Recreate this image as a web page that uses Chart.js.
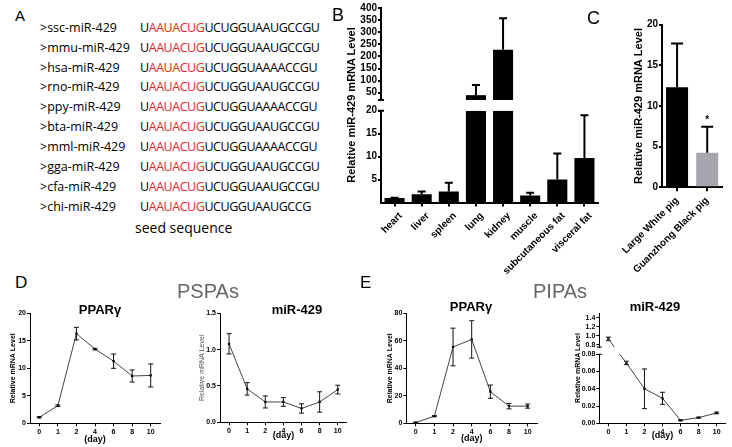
<!DOCTYPE html>
<html lang="en">
<head>
<meta charset="utf-8">
<title>miR-429 expression in pig tissues and adipocytes</title>
<script src="https://cdn.jsdelivr.net/npm/chart.js@4.4.1/dist/chart.umd.min.js"></script>
<style>
  html, body { margin: 0; padding: 0; background: #fff; }
  #page { position: relative; width: 732px; height: 447px; overflow: hidden; font-family: "Liberation Sans", Arial, sans-serif; color: #000; }
  #page canvas { position: absolute; }
  .txt { position: absolute; white-space: nowrap; line-height: 1; }
  .panel-title { position: absolute; width: 100px; text-align: center; font-weight: bold; font-size: 13px; line-height: 1; white-space: nowrap; }
  .group-title { position: absolute; font-size: 20px; color: #666; line-height: 1; white-space: nowrap; }
  .vtitle { position: absolute; width: 200px; text-align: center; transform: rotate(-90deg); white-space: nowrap; font-weight: bold; }
  .seq { position: absolute; white-space: nowrap; font-family: "Open Sans", sans-serif; font-size: 12.5px; line-height: 1; }
  .seq.code { letter-spacing: -0.45px; }
  .seed { color: #e3262b; }
</style>
</head>
<body>
<div id="page">
  <div id="panelA"></div>

  <canvas id="tissueChart" width="282" height="285" style="left:320px;top:0"></canvas>
  <canvas id="breedChart" width="132" height="285" style="left:600px;top:0"></canvas>
  <canvas id="pspaPpargChart" width="164" height="147" style="left:0;top:300px"></canvas>
  <canvas id="pspaMirChart" width="166" height="147" style="left:185px;top:300px"></canvas>
  <canvas id="pipaPpargChart" width="170" height="147" style="left:371px;top:300px"></canvas>
  <canvas id="pipaMirChart" width="167" height="147" style="left:565px;top:300px"></canvas>

  <div class="txt" style="left:15px;top:8px;font-size:15px">A</div>
  <div class="txt" style="left:332px;top:6px;font-size:18px">B</div>
  <div class="txt" style="left:587px;top:9px;font-size:18px">C</div>
  <div class="txt" style="left:15px;top:274px;font-size:17px">D</div>
  <div class="txt" style="left:360px;top:274px;font-size:17px">E</div>

  <div class="group-title" style="left:177px;top:281px">PSPAs</div>
  <div class="group-title" style="left:533px;top:281px">PIPAs</div>

  <div class="panel-title" style="left:50px;top:303px">PPARγ</div>
  <div class="panel-title" style="left:247px;top:303px">miR-429</div>
  <div class="panel-title" style="left:421px;top:300px">PPARγ</div>
  <div class="panel-title" style="left:605px;top:300px">miR-429</div>

  <div class="vtitle" style="left:251px;top:99px;font-size:11px;line-height:12px">Relative miR-429 mRNA Level</div>
  <div class="vtitle" style="left:478px;top:364px;font-size:7px;line-height:8px">Relative mRNA Level</div>
</div>

<script>
// ---- panel A: miR-429 sequences ----
const speciesNames = ['>ssc-miR-429', '>mmu-miR-429', '>hsa-miR-429', '>rno-miR-429', '>ppy-miR-429',
  '>bta-miR-429', '>mml-miR-429', '>gga-miR-429', '>cfa-miR-429', '>chi-miR-429'];
const sequences = ['UAAUACUGUCUGGUAAUGCCGU', 'UAAUACUGUCUGGUAAUGCCGU', 'UAAUACUGUCUGGUAAAACCGU',
  'UAAUACUGUCUGGUAAUGCCGU', 'UAAUACUGUCUGGUAAAACCGU', 'UAAUACUGUCUGGUAAUGCCGU',
  'UAAUACUGUCUGGUAAAACCGU', 'UAAUACUGUCUGGUAAUGCCGU', 'UAAUACUGUCUGGUAAUGCCGU',
  'UAAUACUGUCUGGUAAUGCCG'];
const seedStart = 1;
const seedEnd = 8;

// ---- panel B: tissues ----
const tissues = ['heart', 'liver', 'spleen', 'lung', 'kidney', 'muscle', 'subcutaneous fat', 'visceral fat'];
const tissueLevel = [1.0, 1.8, 2.4, 40, 228, 1.5, 5.0, 9.7];
const tissueSem = [0.05, 0.6, 1.9, 42, 130, 0.6, 5.7, 9.3];
const tissueTicksHigh = [50, 100, 150, 200, 250, 300, 350, 400];
const tissueTicksLow = [5, 10, 15, 20];
const tissueBreak = 20;

// ---- panel C: breeds ----
const breeds = ['Large White pig', 'Guanzhong Black pig'];
const breedLevel = [12.3, 4.25];
const breedSem = [5.4, 3.2];
const breedMarks = ['', '*'];
const breedTicks = [0, 5, 10, 15, 20];

// ---- panels D, E: differentiation time course ----
const dayLabels = ['0', '1', '2', '4', '6', '8', '10'];
const pspaPparg = [1.1, 3.2, 16.3, 13.5, 11.3, 8.6, 8.7];
const pspaPpargSem = [0.1, 0.15, 1.15, 0.15, 1.3, 1.1, 2.1];
const pspaPpargTicks = [0, 5, 10, 15, 20];
const pspaMir = [1.08, 0.46, 0.28, 0.28, 0.19, 0.28, 0.45];
const pspaMirSem = [0.14, 0.085, 0.083, 0.06, 0.064, 0.14, 0.06];
const pspaMirTicks = [0, 0.5, 1.0, 1.5];
const pipaPparg = [0.5, 5.2, 55.5, 61, 23, 12.5, 12.5];
const pipaPpargSem = [0.3, 0.4, 13.7, 13.6, 4.8, 2, 1.5];
const pipaPpargTicks = [0, 20, 40, 60, 80];
const pipaMir = [0.93, 0.070, 0.040, 0.029, 0.0035, 0.0066, 0.012];
const pipaMirSem = [0.04, 0.002, 0.023, 0.007, 0.0005, 0.0005, 0.001];
const pipaMirTicksHigh = [0.8, 1.0, 1.2, 1.4];
const pipaMirTicksLow = [0, 0.02, 0.04, 0.06, 0.08];
const pipaMirBreak = 0.08;

const FONT = '"Liberation Sans", Arial, sans-serif';
Chart.defaults.font.family = FONT;
Chart.defaults.color = '#000';

// panel A rows
const panelA = document.getElementById('panelA');
speciesNames.forEach((name, i) => {
  const top = 21.7 + i * 19.92;
  const label = document.createElement('div');
  label.className = 'seq';
  label.style.left = '40px';
  label.style.top = `${top}px`;
  label.textContent = name;
  panelA.appendChild(label);

  const seq = sequences[i];
  const row = document.createElement('div');
  row.className = 'seq code';
  row.style.left = '140px';
  row.style.top = `${top}px`;
  row.innerHTML = `${seq.slice(0, seedStart)}<span class="seed">${seq.slice(seedStart, seedEnd)}</span>${seq.slice(seedEnd)}`;
  panelA.appendChild(row);
});
const seedCaption = document.createElement('div');
seedCaption.className = 'seq';
seedCaption.style.cssText = 'left:135px;top:221px;font-size:14px';
seedCaption.textContent = 'seed sequence';
panelA.appendChild(seedCaption);

// error bars (optionally one-sided) + significance marks
const errorBarPlugin = {
  id: 'errorBars',
  afterDatasetsDraw(chart) {
    const { ctx } = chart;
    chart.data.datasets.forEach((dataset, index) => {
      if (!dataset.errors) {
        return;
      }
      const meta = chart.getDatasetMeta(index);
      const yScale = chart.scales[meta.yAxisID];
      const style = dataset.errorBar || {};
      const cap = style.cap ?? 2.5;
      ctx.save();
      ctx.strokeStyle = style.color || '#000';
      ctx.lineWidth = style.width || 1;
      meta.data.forEach((element, i) => {
        const value = dataset.data[i];
        const error = dataset.errors[i];
        if (value == null || error == null) {
          return;
        }
        const x = element.x;
        const top = yScale.getPixelForValue(value + error);
        const bottom = yScale.getPixelForValue(style.upOnly ? value : value - error);
        ctx.beginPath();
        ctx.moveTo(x, bottom);
        ctx.lineTo(x, top);
        ctx.moveTo(x - cap, top);
        ctx.lineTo(x + cap, top);
        if (!style.upOnly) {
          ctx.moveTo(x - cap, bottom);
          ctx.lineTo(x + cap, bottom);
        }
        ctx.stroke();
        if (dataset.marks && dataset.marks[i]) {
          ctx.fillStyle = '#000';
          ctx.font = `bold 10px ${FONT}`;
          ctx.textAlign = 'center';
          ctx.textBaseline = 'bottom';
          ctx.fillText(dataset.marks[i], x, top - 1);
        }
      });
      ctx.restore();
    });
  },
};

// short caps where a broken axis is interrupted
const axisBreakPlugin = {
  id: 'axisBreak',
  afterDraw(chart, args, opts) {
    if (!opts.gapAxis) {
      return;
    }
    const gap = chart.scales[opts.gapAxis];
    const x = chart.chartArea.left;
    const { ctx } = chart;
    ctx.save();
    ctx.strokeStyle = '#000';
    ctx.lineWidth = opts.width || 1;
    ctx.beginPath();
    [gap.top, gap.bottom].forEach((y) => {
      ctx.moveTo(x - opts.size, y);
      ctx.lineTo(x + opts.size, y);
    });
    ctx.stroke();
    ctx.restore();
  },
};

// line segment that crosses from the upper to the lower part of a broken axis
const brokenLinkPlugin = {
  id: 'brokenLink',
  afterDatasetsDraw(chart, args, opts) {
    if (!opts.values) {
      return;
    }
    const { ctx, chartArea } = chart;
    const xScale = chart.scales.x;
    const high = chart.scales[opts.highAxis];
    const low = chart.scales[opts.lowAxis];
    const gap = chart.scales[opts.gapAxis];
    const pixel = (v) => (v > opts.threshold ? high : low).getPixelForValue(v);
    ctx.save();
    ctx.beginPath();
    ctx.rect(chartArea.left, chartArea.top, chartArea.width, gap.top - chartArea.top);
    ctx.rect(chartArea.left, gap.bottom, chartArea.width, chartArea.bottom - gap.bottom);
    ctx.clip();
    ctx.strokeStyle = opts.color;
    ctx.lineWidth = 1;
    for (let i = 0; i < opts.values.length - 1; i++) {
      const a = opts.values[i];
      const b = opts.values[i + 1];
      if ((a > opts.threshold) !== (b > opts.threshold)) {
        ctx.beginPath();
        ctx.moveTo(xScale.getPixelForValue(i), pixel(a));
        ctx.lineTo(xScale.getPixelForValue(i + 1), pixel(b));
        ctx.stroke();
      }
    }
    ctx.restore();
  },
};

Chart.register(errorBarPlugin, axisBreakPlugin, brokenLinkPlugin);

const baseOptions = {
  responsive: false,
  animation: false,
  events: [],
  plugins: { legend: { display: false }, tooltip: { enabled: false } },
};

function fixedTicks(values) {
  return (scale) => {
    scale.ticks = values.map((value) => ({ value }));
  };
}

function valueAxis({ ticks, min, max, width, lineWidth = 1, fontSize = 7, digits = 0, title, extra = {} }) {
  return {
    type: 'linear',
    position: 'left',
    min,
    max,
    afterBuildTicks: fixedTicks(ticks),
    afterFit(scale) {
      scale.width = width;
    },
    grid: { drawOnChartArea: false, tickLength: 3, color: '#000', lineWidth },
    border: { color: '#000', width: lineWidth },
    ticks: {
      font: { size: fontSize, weight: 'bold' },
      color: '#000',
      padding: 1,
      autoSkip: false,
      callback: (v) => Number(v).toFixed(digits),
    },
    title: title || { display: false },
    ...extra,
  };
}

function gapAxis(stack, stackWeight, width) {
  return {
    type: 'linear',
    position: 'left',
    stack,
    stackWeight,
    weight: 2,
    min: 0,
    max: 1,
    afterFit(scale) {
      scale.width = width;
    },
    grid: { display: false },
    border: { display: false },
    ticks: { display: false },
  };
}

function categoryAxis({ height, lineWidth, fontSize, rotation = 0, labelShift = 0, title }) {
  return {
    type: 'category',
    offset: true,
    afterFit(scale) {
      scale.height = height;
    },
    grid: { drawOnChartArea: false, offset: false, tickLength: rotation ? 4 : 3, color: '#000', lineWidth },
    border: { color: '#000', width: lineWidth },
    ticks: {
      font: { size: fontSize, weight: 'bold' },
      color: '#000',
      padding: rotation ? 3.5 : 2,
      labelOffset: labelShift,
      autoSkip: false,
      minRotation: rotation,
      maxRotation: rotation,
    },
    title: title || { display: false },
  };
}

function dayTitle(pad) {
  return {
    display: true,
    text: '(day)',
    font: { size: 9, weight: 'bold' },
    color: '#000',
    padding: { top: 0, bottom: pad },
  };
}

function levelTitle(pad, weight = 'bold', color = '#000') {
  return {
    display: true,
    text: 'Relative mRNA Level',
    font: { size: 7, weight },
    color,
    padding: { top: pad, bottom: 0 },
  };
}

function lineDataset(values, errors, yAxisID = 'y') {
  return {
    data: values,
    errors,
    yAxisID,
    borderColor: '#444',
    borderWidth: 1,
    pointStyle: 'rect',
    pointRadius: 1.6,
    pointBackgroundColor: '#000',
    pointBorderWidth: 0,
    tension: 0,
    spanGaps: false,
    errorBar: { width: 1, cap: 2.5, color: '#111' },
  };
}

// ---- B: tissue distribution with broken axis ----
const tissueLow = tissueLevel.map((v) => Math.min(v, tissueBreak));
const tissueHigh = tissueLevel.map((v) => (v > tissueBreak ? v : null));
const tissueSemLow = tissueSem.map((e, i) => (tissueLevel[i] > tissueBreak ? null : e));
const tissueSemHigh = tissueSem.map((e, i) => (tissueLevel[i] > tissueBreak ? e : null));
const barErrorStyle = { width: 2, cap: 4, upOnly: true };

new Chart(document.getElementById('tissueChart'), {
  type: 'bar',
  data: {
    labels: tissues,
    datasets: [
      { data: tissueLow, errors: tissueSemLow, yAxisID: 'yLow', backgroundColor: '#000', grouped: false,
        barPercentage: 0.74, categoryPercentage: 1, errorBar: barErrorStyle },
      { data: tissueHigh, errors: tissueSemHigh, yAxisID: 'yHigh', backgroundColor: '#000', grouped: false,
        barPercentage: 0.74, categoryPercentage: 1, errorBar: barErrorStyle },
    ],
  },
  options: {
    ...baseOptions,
    layout: { padding: { top: 8, right: 4, bottom: 0, left: 0 } },
    plugins: { ...baseOptions.plugins, axisBreak: { gapAxis: 'yGap', size: 3, width: 2 } },
    scales: {
      x: categoryAxis({ height: 82.5, lineWidth: 2, fontSize: 10, rotation: 45, labelShift: 6 }),
      yHigh: valueAxis({ ticks: tissueTicksHigh, min: tissueBreak, max: 400, width: 61, lineWidth: 2, fontSize: 10,
        extra: { stack: 'tissue', stackWeight: 92, weight: 3 } }),
      yGap: gapAxis('tissue', 10.7, 61),
      yLow: valueAxis({ ticks: tissueTicksLow, min: 0, max: tissueBreak, width: 61, lineWidth: 2, fontSize: 10,
        extra: { stack: 'tissue', stackWeight: 91.8, weight: 1 } }),
    },
  },
});

// ---- C: two breeds ----
const breedColors = ['#000000', '#a6a6ae'];
new Chart(document.getElementById('breedChart'), {
  type: 'bar',
  data: {
    labels: breeds,
    datasets: [{ data: breedLevel, errors: breedSem, marks: breedMarks, backgroundColor: breedColors,
      barPercentage: 0.73, categoryPercentage: 1, errorBar: { width: 2, cap: 6, upOnly: true } }],
  },
  options: {
    ...baseOptions,
    layout: { padding: { top: 24.7, right: 9.7, bottom: 0, left: 0 } },
    scales: {
      x: categoryAxis({ height: 97.7, lineWidth: 2, fontSize: 10, rotation: 45, labelShift: 0 }),
      y: valueAxis({ ticks: breedTicks, min: 0, max: 20, width: 62, lineWidth: 2, fontSize: 10,
        title: { display: true, text: 'Relative miR-429 mRNA Level', font: { size: 11, weight: 'bold' },
          color: '#000', padding: { top: 32.4, bottom: 0 } } }),
    },
  },
});

// ---- D / E: line charts ----
function buildLineChart(canvasId, cfg) {
  return new Chart(document.getElementById(canvasId), {
    type: 'line',
    data: { labels: dayLabels, datasets: [lineDataset(cfg.values, cfg.errors)] },
    options: {
      ...baseOptions,
      layout: { padding: { top: 13.3, right: cfg.padRight, bottom: 0, left: 0 } },
      scales: {
        x: categoryAxis({ height: cfg.xHeight, lineWidth: 1, fontSize: 7, title: dayTitle(cfg.dayPad) }),
        y: valueAxis({ ticks: cfg.ticks, min: cfg.ticks[0], max: cfg.ticks[cfg.ticks.length - 1],
          width: cfg.yWidth, digits: cfg.digits, title: cfg.title }),
      },
    },
  });
}

buildLineChart('pspaPpargChart', { values: pspaPparg, errors: pspaPpargSem, ticks: pspaPpargTicks, digits: 0,
  yWidth: 30, padRight: 4, xHeight: 23.7, dayPad: 1.9, title: levelTitle(9.1) });
buildLineChart('pspaMirChart', { values: pspaMir, errors: pspaMirSem, ticks: pspaMirTicks, digits: 1,
  yWidth: 35, padRight: 4.2, xHeight: 24.7, dayPad: 5.6, title: levelTitle(12.8, 'normal', '#555') });
buildLineChart('pipaPpargChart', { values: pipaPparg, errors: pipaPpargSem, ticks: pipaPpargTicks, digits: 0,
  yWidth: 35.4, padRight: 3.4, xHeight: 23.7, dayPad: 3.3, title: levelTitle(14.5) });

// E miR-429 with broken axis
const pipaMirHigh = pipaMir.map((v) => (v > pipaMirBreak ? v : null));
const pipaMirLow = pipaMir.map((v) => (v > pipaMirBreak ? null : v));
const pipaSemHigh = pipaMirSem.map((e, i) => (pipaMir[i] > pipaMirBreak ? e : null));
const pipaSemLow = pipaMirSem.map((e, i) => (pipaMir[i] > pipaMirBreak ? null : e));

new Chart(document.getElementById('pipaMirChart'), {
  type: 'line',
  data: {
    labels: dayLabels,
    datasets: [lineDataset(pipaMirHigh, pipaSemHigh, 'yHigh'), lineDataset(pipaMirLow, pipaSemLow, 'yLow')],
  },
  options: {
    ...baseOptions,
    layout: { padding: { top: 13.3, right: 6.3, bottom: 0, left: 0 } },
    plugins: {
      ...baseOptions.plugins,
      axisBreak: { gapAxis: 'yGap', size: 2.5, width: 1 },
      brokenLink: { values: pipaMir, threshold: pipaMirBreak, highAxis: 'yHigh', lowAxis: 'yLow', gapAxis: 'yGap', color: '#444' },
    },
    scales: {
      x: categoryAxis({ height: 23.7, lineWidth: 1, fontSize: 7, title: dayTitle(6.3) }),
      yHigh: valueAxis({ ticks: pipaMirTicksHigh, min: 0.75, max: 1.5, width: 34.3, digits: 1,
        extra: { stack: 'pipa', stackWeight: 33.7, weight: 3 } }),
      yGap: gapAxis('pipa', 7.3, 34.3),
      yLow: valueAxis({ ticks: pipaMirTicksLow, min: 0, max: pipaMirBreak, width: 34.3, digits: 2,
        extra: { stack: 'pipa', stackWeight: 69, weight: 1 } }),
    },
  },
});
</script>
</body>
</html>
